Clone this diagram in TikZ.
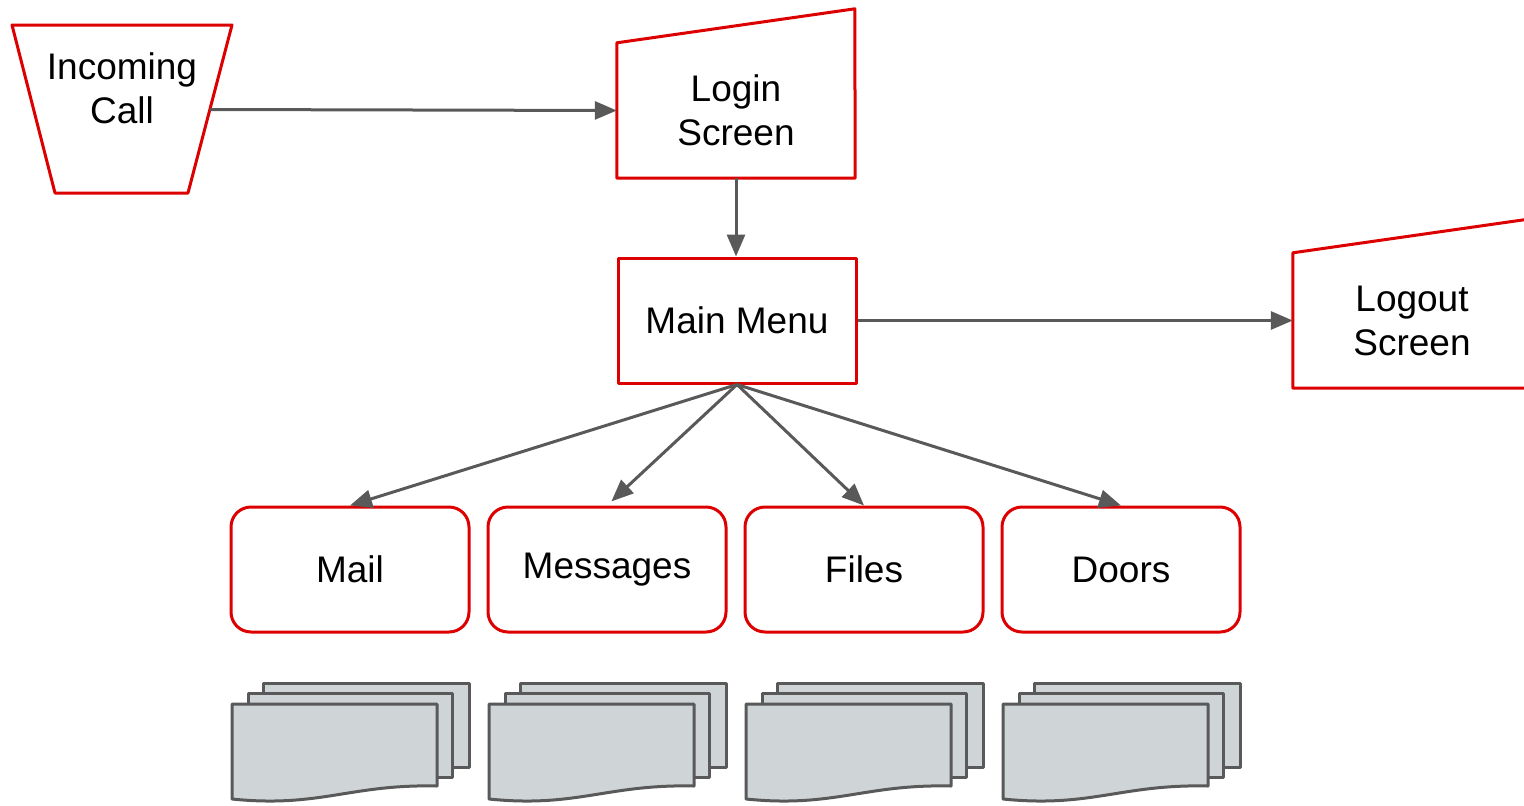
\documentclass[tikz,border=0pt]{standalone}
\usepackage{fontspec}
\setmainfont{Liberation Sans}
\usetikzlibrary{arrows.meta}
\definecolor{boxred}{RGB}{221,0,0}
\definecolor{linkgray}{RGB}{89,89,89}
\definecolor{pagefill}{RGB}{207,213,214}
\begin{document}
\begin{tikzpicture}[x=1pt,y=-1pt,
  outline/.style={draw=boxred,line width=3pt,line join=round},
  txt/.style={font=\fontsize{37}{44}\selectfont,align=center,text=black,inner sep=0pt},
  menubox/.style={outline,txt,minimum width=238pt,minimum height=125pt},
  areabox/.style={menubox,rounded corners=20pt},
  screenbox/.style={txt,minimum width=238pt,minimum height=135pt},
  link/.style={draw=linkgray,line width=3pt,
    -{Triangle[length=22pt,width=18pt]}},
  page/.style={draw=linkgray,fill=pagefill,line width=3pt,line join=round}
]
\useasboundingbox (0,0) rectangle (1524,806);
\begin{scope}
\clip (0,0) rectangle (1524,806);

% incoming call (inverted trapezoid)
\draw[outline] (12,25) -- (232,25) -- (188,193) -- (55,193) -- cycle;
\node[txt] (call) at (122,88) {Incoming\\Call};
\coordinate (callout) at (210,109.5);

% login and logout screens (manual input shape)
\node[screenbox] (login) at (736,110.5) {Login\\Screen};
\draw[outline] (login.south west) -- (login.north west) -- ++(238,-34)
  -- (login.south east) -- cycle;
\node[screenbox] (logout) at (1412,320.5) {Logout\\Screen};
\draw[outline] (logout.south west) -- (logout.north west) -- ++(238,-34)
  -- (logout.south east) -- cycle;

% main menu
\node[menubox] (main) at (737,320.5) {Main Menu};

% sections
\node[areabox] (mail)  at (350,569.5)  {Mail};
\node[areabox] (msgs)  at (607,569.5)  {Messages};
\node[areabox] (files) at (864,569.5)  {Files};
\node[areabox] (doors) at (1121,569.5) {Doors};

% connectors
\draw[link] (callout) -- (login.west);
\draw[link] (login.south) -- (login.south |- main.north);
\draw[link] (main.east) -- (logout.west);
\draw[link] (main.south) -- (mail.north);
\draw[link,shorten >=6pt] (main.south) -- (msgs.north);
\draw[link] (main.south) -- (files.north);
\draw[link] (main.south) -- (doors.north);

% document stacks below each section
\foreach \dx in {0,257,514,771} {
  \draw[page] (263+\dx,683) rectangle (469+\dx,767);
  \draw[page] (248+\dx,693) rectangle (452+\dx,777);
  \draw[page] (232+\dx,704) -- (437+\dx,704) -- (437+\dx,786)
    .. controls (350+\dx,784) and (320+\dx,808) .. (232+\dx,799) -- cycle;
}
\end{scope}
\end{tikzpicture}
\end{document}
